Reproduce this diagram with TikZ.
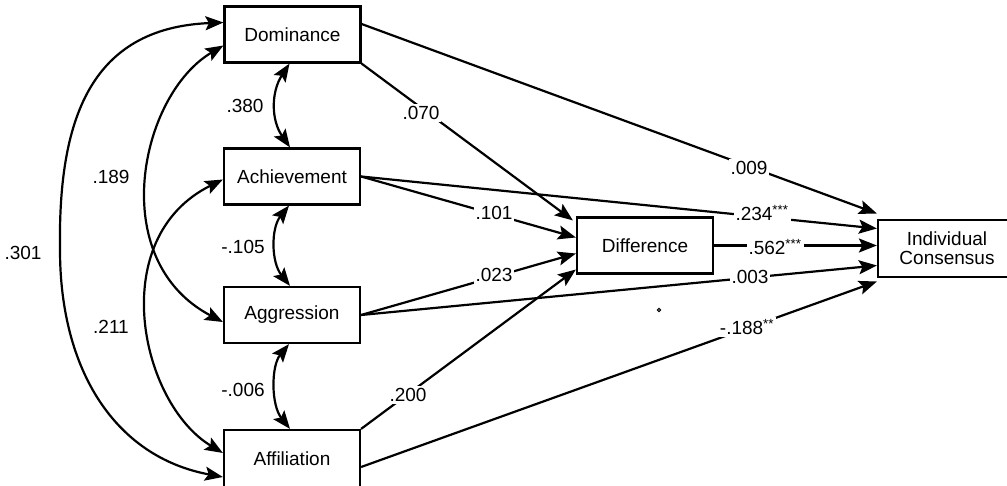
\documentclass[tikz,border=0pt]{standalone}
\usepackage{fontspec}
\setmainfont{Liberation Sans}
\usetikzlibrary{arrows.meta}
\begin{document}
\begin{tikzpicture}[x=1pt,y=-1pt,
  box/.style={draw, line width=2.2pt, minimum width=136pt, minimum height=56pt, inner sep=0pt, font=\fontsize{19}{22}\selectfont, align=center},
  tip/.tip={Stealth[length=18pt,width=14pt,inset=3.5pt]},
  conn/.style={line width=2.2pt, -tip},
  corr/.style={line width=2.2pt, tip-tip},
  lab/.style={fill=white, inner sep=2pt, font=\fontsize{19}{22}\selectfont}]
\useasboundingbox (0,0) rectangle (1007,486);
% nodes
\node[box] (dom) at (292.5,34.5) {Dominance};
\node[box] (ach) at (292,176.5) {Achievement};
\node[box] (agg) at (292,315) {Aggression};
\node[box, minimum height=60pt] (aff) at (292,460) {\raisebox{3pt}{Affiliation}};
\node[box] (diff) at (645,245.5) {Difference};
\node[box, minimum width=138pt, minimum height=57pt] (ic) at (947,248.5) {Individual\\[-3pt]Consensus};
% paths to Difference and Individual Consensus
\draw[conn] ([yshift=10.5pt]dom.east) -- ([yshift=35pt]ic.west);
\draw[conn] (dom.south east) -- ([xshift=-3pt,yshift=-4pt]diff.north west);
\draw[conn] (ach.east) -- ([yshift=20pt]ic.west);
\draw[conn] (ach.east) -- ([yshift=8pt]diff.west);
\draw[conn] (agg.east) -- ([yshift=-8pt]diff.west);
\draw[conn] (agg.east) -- ([yshift=-17pt]ic.west);
\draw[conn] (aff.north east) -- ([yshift=-24pt]diff.west);
\draw[conn] ([yshift=-7pt]aff.east) -- ([yshift=-33pt]ic.west);
\draw[conn] (diff.east) -- (diff.east -| ic.west);
% correlations
\draw[corr] ([xshift=-3pt]dom.south) .. controls (271,92) and (271,120) .. ([xshift=-2pt]ach.north);
\draw[corr] ([xshift=-3pt]ach.south) .. controls (271,228) and (271,262) .. ([xshift=-2pt]agg.north);
\draw[corr] ([xshift=-3pt]agg.south) .. controls (271,366) and (271,405) .. ([xshift=-2pt]aff.north);
\draw[corr] ([yshift=-11pt]dom.west) .. controls (140,95) and (105,260) .. ([yshift=-7pt]agg.west);
\draw[corr] ([yshift=-3pt]ach.west) .. controls (105,238) and (140,403) .. ([yshift=7pt]aff.west);
\draw[corr] ([yshift=12pt]dom.west) .. controls (90,28) and (58,120) .. (60,250)
  .. controls (60,370) and (115,457) .. ([yshift=-17pt]aff.west);
% labels
\node[lab] (l380) at (245,106) {.380};
\node[lab] (l105) at (243,247) {-.105};
\node[lab] (l006) at (243,390) {-.006};
\node[lab] (l189) at (111,177) {.189};
\node[lab] (l211) at (111,327) {.211};
\node[lab] (l301) at (23,253) {.301};
\node[lab] (l070) at (421,113) {.070};
\node[lab] (l101) at (494,213) {.101};
\node[lab] (l023) at (494,275) {.023};
\node[lab] (l200) at (408,395) {.200};
\node[lab] (l009) at (749,168) {.009};
\node[lab] (l234) at (762,213) {.234\textsuperscript{***}};
\node[lab] (l562) at (775,247) {.562\textsuperscript{***}};
\node[lab] (l003) at (750,277) {.003};
\node[lab] (l188) at (747,327) {-.188\textsuperscript{**}};
\node[circle, draw, line width=1pt, inner sep=1.2pt] (speck) at (659,310) {};
\end{tikzpicture}
\end{document}
